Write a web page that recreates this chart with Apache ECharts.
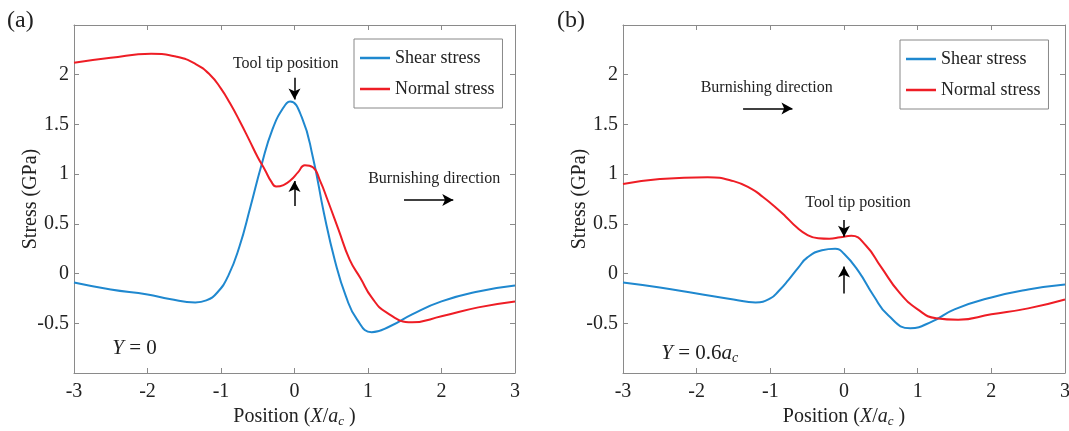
<!DOCTYPE html>
<html>
<head>
<meta charset="utf-8">
<script src="https://cdn.jsdelivr.net/npm/echarts@6/dist/echarts.min.js"></script>
<style>
  html, body { margin: 0; padding: 0; background: #fff; }
  #chart { width: 1069px; height: 431px; }
</style>
</head>
<body>
<div id="chart"></div>
<script>
// Panel (a): Y = 0 — sample positions (X/a_c) and stresses (GPa)
const shearAX = [-3, -2.5, -2, -1.7, -1.35, -1.2, -1.05, -0.9, -0.75, -0.6, -0.45, -0.3, -0.15, -0.06, 0.1, 0.25, 0.4, 0.55, 0.7, 0.85, 1.05, 1.3, 1.6, 2, 2.5, 3];
const shearAY = [-0.09, -0.16, -0.21, -0.255, -0.29, -0.27, -0.19, -0.02, 0.27, 0.67, 1.09, 1.45, 1.67, 1.73, 1.57, 1.17, 0.61, 0.13, -0.23, -0.46, -0.59, -0.53, -0.41, -0.28, -0.18, -0.12];
const normalAX = [-3, -2.5, -1.95, -1.6, -1.35, -1.15, -1, -0.875, -0.75, -0.62, -0.5, -0.4, -0.32, -0.25, -0.15, -0.05, 0.05, 0.14, 0.25, 0.35, 0.45, 0.6, 0.75, 0.9, 1.05, 1.25, 1.6, 2, 2.5, 3];
const normalAY = [2.12, 2.17, 2.21, 2.18, 2.11, 2.00, 1.86, 1.71, 1.54, 1.35, 1.17, 1.04, 0.93, 0.875, 0.89, 0.94, 1.02, 1.09, 1.07, 0.93, 0.74, 0.44, 0.14, -0.05, -0.24, -0.39, -0.49, -0.43, -0.34, -0.28];

// Panel (b): Y = 0.6 a_c
const shearBX = [-3, -2.5, -2, -1.5, -1.2, -1, -0.88, -0.75, -0.62, -0.5, -0.3, -0.12, 0, 0.2, 0.4, 0.6, 0.9, 1.2, 1.5, 2, 2.5, 3];
const shearBY = [-0.09, -0.14, -0.20, -0.26, -0.29, -0.25, -0.17, -0.06, 0.06, 0.16, 0.235, 0.25, 0.20, 0.02, -0.22, -0.42, -0.55, -0.48, -0.36, -0.24, -0.16, -0.11];
const normalBX = [-3, -2.5, -1.85, -1.5, -1.25, -1.1, -0.95, -0.8, -0.65, -0.5, -0.35, -0.2, -0.05, 0.1, 0.3, 0.5, 0.75, 1, 1.25, 1.55, 2, 2.5, 3];
const normalBY = [0.90, 0.95, 0.97, 0.93, 0.85, 0.77, 0.68, 0.58, 0.47, 0.39, 0.355, 0.35, 0.365, 0.38, 0.28, 0.07, -0.19, -0.36, -0.45, -0.465, -0.41, -0.35, -0.26];

const xRange = [-3, 3, 1];
const yRange = [-1, 2.5, 0.5];
const seriesNames = ['Shear stress', 'Normal stress'];
const panelLabels = ['(a)', '(b)'];

const SERIF = '"Liberation Serif", "DejaVu Serif", "Times New Roman", serif';
const AXIS_GREY = '#8a8a8a';
const INK = '#222';
const BLUE = '#1f88cf';
const RED = '#ee1d25';

const pairs = (xs, ys) => xs.map((x, i) => [x, ys[i]]);

const chart = echarts.init(document.getElementById('chart'), null, { renderer: 'canvas' });

const grids = [
  { left: 74, right: 554, top: 25, bottom: 58, outerBoundsMode: 'none', containLabel: false },
  { left: 623, right: 4, top: 25, bottom: 58, outerBoundsMode: 'none', containLabel: false }
];

const xAxes = [];
const yAxes = [];
grids.forEach((g, gi) => {
  const tick = { show: true, inside: true, length: 5, lineStyle: { color: AXIS_GREY, width: 1 } };
  const line = { show: true, onZero: false, lineStyle: { color: AXIS_GREY, width: 1 } };
  xAxes.push({
    type: 'value', gridIndex: gi, position: 'bottom',
    min: xRange[0], max: xRange[1], interval: xRange[2],
    axisLine: line, axisTick: tick, splitLine: { show: false },
    axisLabel: { fontFamily: SERIF, fontSize: 20, color: INK, margin: 9 },
    name: '{n|Position (}{i|X}{n|/}{i|a}{s|c}{n| )}',
    nameLocation: 'middle', nameGap: 32, nameMoveOverlap: false,
    nameTextStyle: {
      fontFamily: SERIF, fontSize: 20, color: INK,
      rich: {
        n: { fontFamily: SERIF, fontSize: 20, color: INK },
        i: { fontFamily: SERIF, fontSize: 20, fontStyle: 'italic', color: INK },
        s: { fontFamily: SERIF, fontSize: 13, fontStyle: 'italic', color: INK, padding: [10, 0, 0, 0] }
      }
    }
  });
  xAxes.push({
    type: 'value', gridIndex: gi, position: 'top',
    min: xRange[0], max: xRange[1], interval: xRange[2],
    axisLine: line, axisTick: tick, axisLabel: { show: false }, splitLine: { show: false }
  });
  yAxes.push({
    type: 'value', gridIndex: gi, position: 'left',
    min: yRange[0], max: yRange[1], interval: yRange[2],
    axisLine: line, axisTick: tick, splitLine: { show: false },
    axisLabel: { fontFamily: SERIF, fontSize: 20, color: INK, margin: 5, showMinLabel: false, showMaxLabel: false },
    name: 'Stress (GPa)', nameLocation: 'middle', nameGap: 43, nameRotate: 90, nameMoveOverlap: false,
    nameTextStyle: { fontFamily: SERIF, fontSize: 20, color: INK, verticalAlign: 'middle' }
  });
  yAxes.push({
    type: 'value', gridIndex: gi, position: 'right',
    min: yRange[0], max: yRange[1], interval: yRange[2],
    axisLine: line, axisTick: tick, axisLabel: { show: false }, splitLine: { show: false }
  });
});

function arrowLines(segments) {
  return {
    silent: true,
    symbol: ['none', 'arrow'],
    symbolSize: [9, 11],
    lineStyle: { color: '#000', width: 1.5, type: 'solid' },
    label: { show: false },
    emphasis: { disabled: true },
    animation: false,
    data: segments.map(s => [{ coord: s[0] }, { coord: s[1] }])
  };
}

function curve(name, gi, data, color, mark) {
  const s = {
    name, type: 'line', xAxisIndex: gi * 2, yAxisIndex: gi * 2,
    data, smooth: 0.5, symbol: 'none', showSymbol: false,
    lineStyle: { color, width: 2 }, itemStyle: { color },
    animation: false, z: 3
  };
  if (mark) s.markLine = mark;
  return s;
}

const series = [
  curve(seriesNames[0], 0, pairs(shearAX, shearAY), BLUE, arrowLines([
    [[0, 1.97], [0, 1.75]],
    [[0, 0.68], [0, 0.93]],
    [[1.49, 0.74], [2.16, 0.74]]
  ])),
  curve(seriesNames[1], 0, pairs(normalAX, normalAY), RED),
  curve(seriesNames[0], 1, pairs(shearBX, shearBY), BLUE, arrowLines([
    [[0, 0.54], [0, 0.37]],
    [[0, -0.2], [0, 0.07]],
    [[-1.37, 1.66], [-0.70, 1.66]]
  ])),
  curve(seriesNames[1], 1, pairs(normalBX, normalBY), RED)
];

const legendBase = {
  orient: 'vertical', data: seriesNames, selectedMode: false,
  icon: 'rect', itemWidth: 30, itemHeight: 2.5,
  borderColor: '#888', borderWidth: 1, backgroundColor: '#fff',
  padding: [9, 8, 9, 6], itemGap: 11,
  textStyle: { fontFamily: SERIF, fontSize: 18, color: INK, lineHeight: 20 }
};

chart.setOption({
  backgroundColor: '#fff',
  animation: false,
  grid: grids,
  xAxis: xAxes,
  yAxis: yAxes,
  legend: [
    Object.assign({ left: 354, top: 39 }, legendBase),
    Object.assign({ left: 900, top: 40 }, legendBase)
  ],
  series
});

// Text annotations placed in data coordinates of each panel
const notes = [
  { gi: 0, at: [-0.12, 2.11], text: 'Tool tip position', align: 'center', size: 16 },
  { gi: 0, at: [1.90, 0.95], text: 'Burnishing direction', align: 'center', size: 16 },
  { gi: 0, at: [-2.48, -0.75], rich: '{i|Y}{n| = 0}', align: 'left', size: 21 },
  { gi: 1, at: [-1.05, 1.87], text: 'Burnishing direction', align: 'center', size: 16 },
  { gi: 1, at: [0.19, 0.71], text: 'Tool tip position', align: 'center', size: 16 },
  { gi: 1, at: [-2.48, -0.80], rich: '{i|Y}{n| = 0.6}{i|a}{s|c}', align: 'left', size: 21 }
];

const graphics = notes.map(n => {
  const p = chart.convertToPixel({ xAxisIndex: n.gi * 2, yAxisIndex: n.gi * 2 }, n.at);
  const style = {
    x: p[0], y: p[1], align: n.align, verticalAlign: 'middle',
    fill: INK, fontFamily: SERIF, fontSize: n.size
  };
  if (n.rich) {
    style.text = n.rich;
    style.rich = {
      n: { fontFamily: SERIF, fontSize: n.size, fill: INK },
      i: { fontFamily: SERIF, fontSize: n.size, fontStyle: 'italic', fill: INK },
      s: { fontFamily: SERIF, fontSize: 14, fontStyle: 'italic', fill: INK, padding: [10, 0, 0, 0] }
    };
  } else {
    style.text = n.text;
  }
  return { type: 'text', silent: true, z: 10, style };
});

panelLabels.forEach((label, i) => {
  graphics.push({
    type: 'text', silent: true, z: 10,
    style: { text: label, x: i === 0 ? 7 : 557, y: 21, verticalAlign: 'middle',
             fill: INK, fontFamily: SERIF, fontSize: 24 }
  });
});

chart.setOption({ graphic: graphics });
</script>
</body>
</html>
